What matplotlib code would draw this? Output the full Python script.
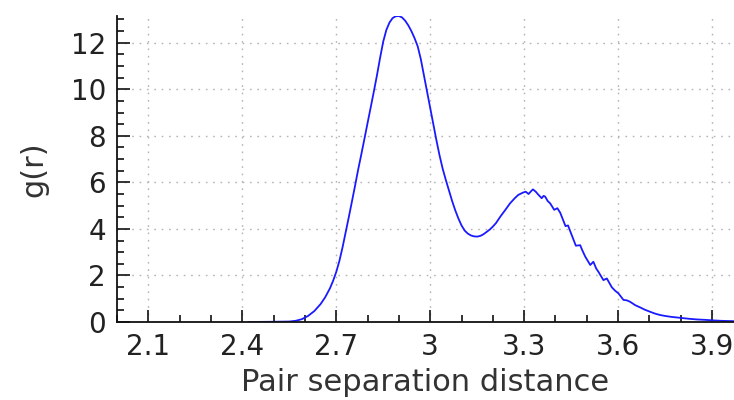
import matplotlib
matplotlib.use('Agg')
import matplotlib.pyplot as plt
from matplotlib.ticker import MultipleLocator

# radial distribution function
r = [2.42, 2.50, 2.55, 2.57, 2.59, 2.61, 2.63, 2.65, 2.665, 2.68,
     2.69, 2.70, 2.71, 2.72, 2.73, 2.74, 2.75, 2.76, 2.77, 2.78,
     2.79, 2.80, 2.81, 2.82, 2.83, 2.84, 2.85, 2.86, 2.87, 2.88,
     2.89, 2.90, 2.91, 2.92, 2.93, 2.94, 2.95, 2.96, 2.97, 2.98,
     2.99, 3.00, 3.01, 3.02, 3.03, 3.04, 3.05, 3.06, 3.07, 3.08,
     3.09, 3.10, 3.11, 3.12, 3.13, 3.14, 3.15, 3.16, 3.17, 3.18,
     3.19, 3.20, 3.21, 3.224, 3.24, 3.255, 3.27, 3.281, 3.296,
     3.305, 3.314, 3.322, 3.328, 3.337, 3.346, 3.356, 3.362, 3.367, 3.375,
     3.383, 3.396, 3.406, 3.415, 3.42, 3.432, 3.44, 3.45, 3.465, 3.479,
     3.485, 3.495, 3.511, 3.521, 3.53, 3.537, 3.553, 3.564, 3.58, 3.59,
     3.601, 3.617, 3.628, 3.638, 3.655, 3.67, 3.685, 3.702, 3.718, 3.734,
     3.75, 3.77, 3.798, 3.825, 3.851, 3.88, 3.903, 3.93, 3.96, 3.98]
g = [0.0, 0.01, 0.02, 0.05, 0.12, 0.26, 0.47, 0.77, 1.07, 1.45,
     1.77, 2.15, 2.62, 3.2, 3.85, 4.5, 5.17, 5.85, 6.55, 7.2,
     7.87, 8.55, 9.22, 9.9, 10.6, 11.35, 12.05, 12.55, 12.87, 13.06,
     13.14, 13.15, 13.09, 12.95, 12.75, 12.5, 12.2, 11.85, 11.3, 10.6,
     9.9, 9.2, 8.5, 7.8, 7.15, 6.58, 6.1, 5.65, 5.2, 4.8,
     4.45, 4.15, 3.93, 3.8, 3.72, 3.68, 3.67, 3.7, 3.77, 3.87,
     3.97, 4.1, 4.25, 4.53, 4.82, 5.1, 5.32, 5.46, 5.56,
     5.6, 5.5, 5.62, 5.7, 5.6, 5.46, 5.32, 5.42, 5.39, 5.2,
     5.1, 4.82, 4.89, 4.7, 4.53, 4.12, 4.15, 3.8, 3.28, 3.3,
     3.1, 2.81, 2.45, 2.59, 2.3, 2.16, 1.8, 1.87, 1.49, 1.35,
     1.23, 0.95, 0.93, 0.87, 0.72, 0.63, 0.53, 0.44, 0.36, 0.3,
     0.26, 0.22, 0.18, 0.14, 0.11, 0.09, 0.07, 0.05, 0.04, 0.03]

plt.rcParams['font.family'] = ['DejaVu Sans']
plt.rcParams['lines.scale_dashes'] = False

fig = plt.figure(figsize=(7.34, 4.0), dpi=100)
ax = fig.add_axes([117 / 734, 78 / 400, 617 / 734, 306 / 400])

ax.plot(r, g, color='#1a1aff', lw=1.3)

ax.set_xlim(2.0, 3.97)
ax.set_ylim(0, max(g))

ax.xaxis.set_minor_locator(MultipleLocator(0.1))
ax.yaxis.set_major_locator(MultipleLocator(2))
ax.yaxis.set_minor_locator(MultipleLocator(0.5))
ax.set_xticks([2.1, 2.4, 2.7, 3.0, 3.3, 3.6, 3.9])
ax.set_xticklabels(['2.1', '2.4', '2.7', '3', '3.3', '3.6', '3.9'])

for side in ['top', 'right']:
    ax.spines[side].set_visible(False)
for side in ['left', 'bottom']:
    ax.spines[side].set_linewidth(1.3)
    ax.spines[side].set_color('#111111')

ax.tick_params(which='major', direction='in', length=9, width=1.2,
               labelsize=20, labelcolor='#222222', color='#111111', pad=8)
ax.tick_params(which='minor', direction='in', length=5, width=1.2,
               color='#111111')

ax.grid(True, which='major', color='#b4b4b4', linestyle=(0, (1.2, 4.1)), lw=1.0)
ax.set_axisbelow(True)

ax.set_xlabel('Pair separation distance', fontsize=22, color='#333333', labelpad=5)
ax.set_ylabel('g(r)', fontsize=22, color='#333333', labelpad=16)

fig.savefig('out.png', dpi=100)
